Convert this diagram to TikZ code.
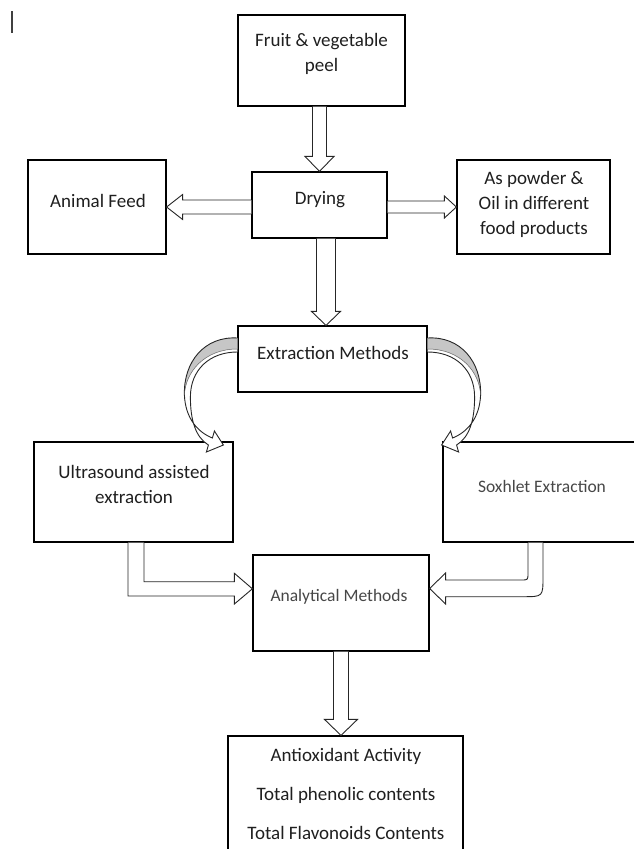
\documentclass[tikz,border=0pt]{standalone}
\usepackage{fontspec}
\setmainfont{Carlito}
\usetikzlibrary{calc}
\begin{document}
\begin{tikzpicture}[x=1pt,y=-1pt,
  box/.style={draw=black, line width=1.2pt, fill=white, inner sep=0pt},
  barrow/.style={draw=black!85, line width=0.9pt, fill=white, line join=miter},
  txt/.style={font=\fontsize{19}{25}\selectfont, align=center, inner sep=0pt, text=black!88},
  txtb/.style={font=\fontsize{17.5}{22}\selectfont, align=center, inner sep=0pt, text=black!72},
  curvarr/.pic={
    \fill[white] (0,-21) .. controls (-33,-23) and (-54,3) .. (-53,36)
      .. controls (-52,59) and (-40,73) .. (-25,79) -- (-23,72) -- (-14,86) -- (-31,93) -- (-29,86)
      .. controls (-42,78) and (-47,61) .. (-47,38) .. controls (-47,11) and (-28,-7) .. (0,-7);
    \fill[gray!45] (0,-21) .. controls (-33,-23) and (-54,3) .. (-53,36)
      .. controls (-52,13) and (-33,-10) .. (0,-10) -- cycle;
    \draw[draw=black!85, line width=0.9pt, line join=miter] (0,-21) .. controls (-33,-23) and (-54,3) .. (-53,36)
      .. controls (-52,59) and (-40,73) .. (-25,79) -- (-23,72) -- (-14,86) -- (-31,93) -- (-29,86)
      .. controls (-42,78) and (-47,61) .. (-47,38) .. controls (-47,11) and (-28,-7) .. (0,-7);
    \draw[draw=black!60, line width=0.5pt] (-53,36) .. controls (-52,13) and (-33,-10) .. (0,-10);
  }]
\useasboundingbox (0,0) rectangle (634,849);
\clip (0,0) rectangle (634,849);

% cursor mark
\draw[line width=1.6pt, black!75] (12,11) -- (12,33);

% boxes
\node[box, minimum width=167pt, minimum height=91pt] (fruit) at (321.5,60.5) {};
\node[box, minimum width=135pt, minimum height=66pt] (drying) at (319.5,205) {};
\node[box, minimum width=138pt, minimum height=94pt] (feed) at (97,207) {};
\node[box, minimum width=153pt, minimum height=94pt] (powder) at (533.5,207) {};
\node[box, minimum width=189pt, minimum height=66pt] (ext) at (332.5,359) {};
\node[box, minimum width=199pt, minimum height=100pt] (ultra) at (133.5,492) {};
\node[box, minimum width=197pt, minimum height=100pt] (soxh) at (541.5,492) {};
\node[box, minimum width=176pt, minimum height=96pt] (anal) at (341,603) {};
\node[box, minimum width=235pt, minimum height=124pt] (result) at (345.5,798) {};

% straight block arrows
\draw[barrow] ([xshift=-7]drying.north |- fruit.south) -- ([xshift=-7,yshift=15]drying.north)
  -- ([xshift=-14.5,yshift=15]drying.north) -- (drying.north)
  -- ([xshift=14.5,yshift=15]drying.north) -- ([xshift=7,yshift=15]drying.north)
  -- ([xshift=7]drying.north |- fruit.south);

\coordinate (tB) at ($(drying.south)!0.5!(ext.north)$);
\draw[barrow] ([xshift=-9.5]tB |- drying.south) -- ([xshift=-9.5,yshift=14]tB |- ext.north)
  -- ([xshift=-14.5,yshift=14]tB |- ext.north) -- (tB |- ext.north)
  -- ([xshift=14.5,yshift=14]tB |- ext.north) -- ([xshift=9.5,yshift=14]tB |- ext.north)
  -- ([xshift=9.5]tB |- drying.south);

\draw[barrow] ([yshift=7]feed.east -| drying.west) -- ([xshift=16,yshift=7]feed.east)
  -- ([xshift=16,yshift=12.5]feed.east) -- (feed.east)
  -- ([xshift=16,yshift=-12.5]feed.east) -- ([xshift=16,yshift=-7]feed.east)
  -- ([yshift=-7]feed.east -| drying.west);

\draw[barrow] ([yshift=6]powder.west -| drying.east) -- ([xshift=-12,yshift=6]powder.west)
  -- ([xshift=-12,yshift=11]powder.west) -- (powder.west)
  -- ([xshift=-12,yshift=-11]powder.west) -- ([xshift=-12,yshift=-6]powder.west)
  -- ([yshift=-6]powder.west -| drying.east);

\draw[barrow] ([xshift=-7.5]anal.south) -- ([xshift=-7.5,yshift=16]anal.south |- result.north)
  -- ([xshift=-16.5,yshift=16]anal.south |- result.north) -- (anal.south |- result.north)
  -- ([xshift=16.5,yshift=16]anal.south |- result.north) -- ([xshift=7.5,yshift=16]anal.south |- result.north)
  -- ([xshift=7.5]anal.south);

% bent arrow ultrasound -> analytical
\draw[barrow] ([xshift=-5.5]ultra.south) |- ([xshift=-18,yshift=7]anal.west)
  -- ([xshift=-18,yshift=-1]anal.west) -- ([yshift=14.2]anal.west)
  -- ([xshift=-18,yshift=29.7]anal.west) -- ([xshift=-18,yshift=21.3]anal.west)
  -| ([xshift=10.5]ultra.south);

% bent arrow soxhlet -> analytical
\coordinate (gi) at ($(soxh.south |- anal.east)+(-13.5,-23)$);
\coordinate (go) at ($(soxh.south |- anal.east)+(1.5,-6.3)$);
\draw[barrow] ([xshift=-13.5]soxh.south) -- ([yshift=7]gi) .. controls (gi) .. ([xshift=-7]gi)
  -- ([xshift=16,yshift=23]anal.east) -- ([xshift=16,yshift=30]anal.east)
  -- ([yshift=14.5]anal.east) -- ([xshift=16,yshift=-1]anal.east)
  -- ([xshift=16,yshift=6.3]anal.east) -- ([xshift=-20]go) .. controls (go) .. ([yshift=20]go)
  -- ([xshift=1.5]soxh.south);

% curved arrows
\pic at (ext.west) {curvarr};
\pic[xscale=-1] at (ext.east) {curvarr};

% texts
\node[txt] (tfruit) at (321.5,54.2) {Fruit \& vegetable\\peel};
\node[txt] (tdry) at (320,200) {Drying};
\node[txt] (tfeed) at (98,201) {Animal Feed};
\node[txt] (tpow) at (534,204.5) {As powder \&\\Oil in different\\food products};
\node[txt] (textr) at (333,353) {Extraction Methods};
\node[txt] (tult) at (134,484.5) {Ultrasound assisted\\extraction};
\node[txtb] (tsox) at (542,486) {Soxhlet Extraction};
\node[txtb] (tana) at (339,597) {Analytical Methods};
\node[txt, font=\fontsize{19}{39}\selectfont] (tres) at (346,794) {Antioxidant Activity\\Total phenolic contents\\Total Flavonoids Contents};
\end{tikzpicture}
\end{document}
